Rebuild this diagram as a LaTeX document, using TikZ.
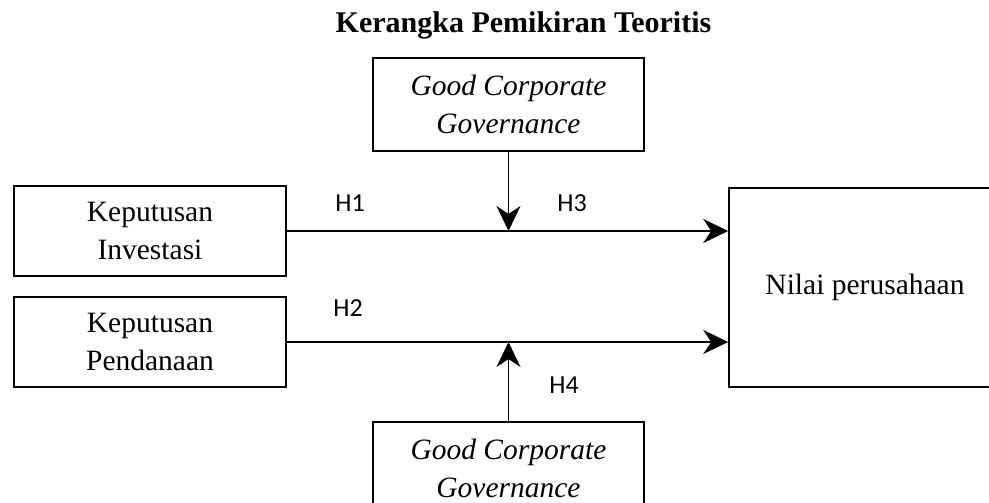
\documentclass[tikz,border=0pt]{standalone}
\usepackage{fontspec}
\setmainfont{Liberation Serif}
\newfontfamily\hfont{Carlito}
\usetikzlibrary{arrows.meta}
\begin{document}
\begin{tikzpicture}[x=1pt,y=-1pt,
  box/.style={draw, line width=1.5pt, rectangle, inner sep=0pt, align=center,
    font=\fontsize{29.5}{38}\selectfont},
  arr/.style={line width=1.6pt, -{Stealth[length=25pt,width=24pt,inset=8pt]}},
  hlab/.style={font=\hfont\fontsize{26}{30}\selectfont, inner sep=0pt}]
\useasboundingbox (0,0) rectangle (989,503);
\clip (0,0) rectangle (989,503);
\node[font=\bfseries\fontsize{30}{36}\selectfont, inner sep=0pt, anchor=base] (title) at (523.5,33) {Kerangka Pemikiran Teoritis};
\node[box, minimum width=272pt, minimum height=90pt] (k1) at (150,231) {Keputusan\\Investasi};
\node[box, minimum width=272pt, minimum height=90pt] (k2) at (150,342) {Keputusan\\Pendanaan};
\node[box, minimum width=271pt, minimum height=93pt] (gt) at (508.5,104.5) {\itshape Good Corporate\\\itshape Governance};
\node[box, minimum width=271pt, minimum height=93pt] (gb) at (508.5,468.5) {\itshape Good Corporate\\\itshape Governance};
\node[box, minimum width=272pt, minimum height=199pt] (nv) at (865,287.5) {Nilai perusahaan};
\draw[arr] (k1.east) -- (k1.east -| nv.west);
\draw[arr] (k2.east) -- (k2.east -| nv.west);
\draw[arr] (gt.south) -- (gt.south |- k1.east);
\draw[arr] (gb.north) -- (gb.north |- k2.east);
\node[hlab] (h1) at (350,203) {H1};
\node[hlab] (h2) at (348,308) {H2};
\node[hlab] (h3) at (572,203) {H3};
\node[hlab] (h4) at (564,385.5) {H4};
\end{tikzpicture}
\end{document}
